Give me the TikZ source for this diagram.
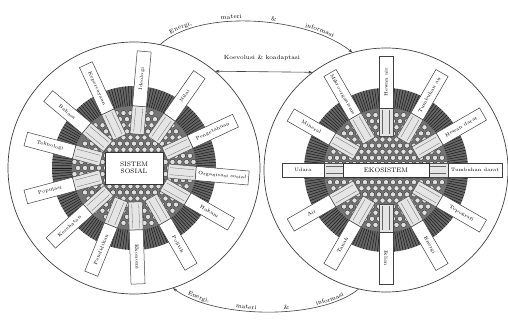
\documentclass[tikz,border=0pt]{standalone}
\usetikzlibrary{arrows.meta,decorations.text,calc}
\tikzset{
  ring/.style={circle, draw=black!75, line width=0.7pt, inner sep=0pt},
  spokeout/.style={draw=black!75, fill=white, line width=0.5pt},
  spokein/.style={draw=black!70, fill=black!10, line width=0.5pt},
  spoketext/.style={font=\fontsize{4.8}{5}\selectfont, inner sep=0pt, transform shape},
  centerbox/.style={draw=black!80, fill=white, line width=0.6pt, font=\fontsize{6.5}{7}\selectfont, align=center, inner sep=1pt},
  flow/.style={draw=black!75, line width=0.6pt, -{Stealth[length=4pt,width=3pt]}},
  flowtext/.style={font=\fontsize{6}{6.5}\selectfont},
}
\newcommand{\wheeltex}[1]{%
  \fill[black!60] (#1) circle (82);
  \foreach \a in {0,2,...,358}
    \draw[black!90, line width=0.5pt] ($(#1)+(\a:62)$) -- ($(#1)+(\a:82)$);
  \fill[black!55] (#1) circle (62);
  \foreach \i in {-9,...,9}{%
    \foreach \j in {-10,...,10}{%
      \pgfmathsetmacro\px{\i*7.0 + abs(mod(\j,2))*3.5}%
      \pgfmathsetmacro\py{\j*6.1}%
      \pgfmathsetmacro\dd{sqrt(\px*\px+\py*\py)}%
      \ifdim\dd pt<60pt
        \filldraw[fill=black!12, draw=black!85, line width=0.35pt] ($(#1)+(\px,\py)$) circle (2.6);
      \fi
    }%
  }%
}
\newcommand{\spoke}[4]{%
  \begin{scope}[shift={(#1)}, rotate=#2]
    \draw[spokein] (34,-7) rectangle (62,7);
    \draw[black!60, line width=0.3pt] (36,-3.5) -- (60,-3.5) (36,3.5) -- (60,3.5);
    \draw[spokeout] (62,-7) rectangle (#4,7);
    \pgfmathsetmacro\fl{cos(#2)<-0.01 ? 180 : 0}
    \node[spoketext, rotate=\fl] at ({(62+#4)/2},0) {#3};
  \end{scope}%
}
\begin{document}
\begin{tikzpicture}[x=1pt,y=1pt]
  \useasboundingbox (0,0) rectangle (508,330);
  \fill[white] (0,0) rectangle (508,330);

  % outer circles
  \node[ring, minimum size=252pt] (L) at (134,162) {};
  \node[ring, minimum size=244pt] (R) at (386,160) {};

  % textures
  \wheeltex{L.center}
  \wheeltex{R.center}

  % spokes of the social system
  \spoke{L.center}{-5}{Organisasi sosial}{115}
  \spoke{L.center}{25}{Pengetahuan}{112}
  \spoke{L.center}{55}{Nilai}{114}
  \spoke{L.center}{85}{Ideologi}{117}
  \spoke{L.center}{115}{Kepercayaan}{114}
  \spoke{L.center}{140}{Bahasa}{112}
  \spoke{L.center}{165}{Teknologi}{112}
  \spoke{L.center}{195}{Populasi}{112}
  \spoke{L.center}{222}{Kesehatan}{112}
  \spoke{L.center}{248}{Pendidikan}{114}
  \spoke{L.center}{272}{Ekonomi}{116}
  \spoke{L.center}{300}{Politik}{114}
  \spoke{L.center}{330}{Hukum}{112}

  % spokes of the ecosystem
  \spoke{R.center}{0}{Tumbuhan darat}{116}
  \spoke{R.center}{30}{Hewan darat}{112}
  \spoke{R.center}{60}{Tumbuhan air}{112}
  \spoke{R.center}{90}{Hewan air}{114}
  \spoke{R.center}{120}{Mikroorganisme}{112}
  \spoke{R.center}{150}{Mineral}{110}
  \spoke{R.center}{180}{Udara}{104}
  \spoke{R.center}{210}{Air}{110}
  \spoke{R.center}{240}{Tanah}{112}
  \spoke{R.center}{270}{Iklim}{114}
  \spoke{R.center}{300}{Energi}{112}
  \spoke{R.center}{330}{Topografi}{112}

  % centre boxes
  \node[centerbox, minimum width=58pt, minimum height=32pt] (S) at (L.center) {SISTEM\\SOSIAL};
  \node[centerbox, minimum width=86pt, minimum height=14pt] (E) at (R.center) {EKOSISTEM};

  % top flow
  \draw[flow] (L.78) .. controls +(40,36) and +(-45,36) .. (R.106);
  \path[decorate, decoration={text along path, text={|\fontsize{6}{6.5}\selectfont|Energi, materi {\&} informasi},
        text align={left indent=14pt, right indent=24pt, fit to path stretching spaces},
        raise=2.5pt}]
        (L.78) .. controls +(40,36) and +(-45,36) .. (R.106);

  % middle
  \node[flowtext] (K) at (262,272) {Koevolusi \& koadaptasi};
  \draw[black!75, line width=0.6pt, {Stealth[length=4pt,width=3pt]}-{Stealth[length=4pt,width=3pt]}] (L.50) -- (R.127);

  % bottom flow
  \draw[flow] (R.257) .. controls +(-40,-32) and +(40,-30) .. (L.288);
  \path[decorate, decoration={text along path, text={|\fontsize{6}{6.5}\selectfont|Energi, materi {\&} informasi},
        text align={left indent=16pt, right indent=16pt, fit to path stretching spaces},
        raise=2pt}]
        (L.288) .. controls +(40,-30) and +(-40,-32) .. (R.257);
\end{tikzpicture}
\end{document}
